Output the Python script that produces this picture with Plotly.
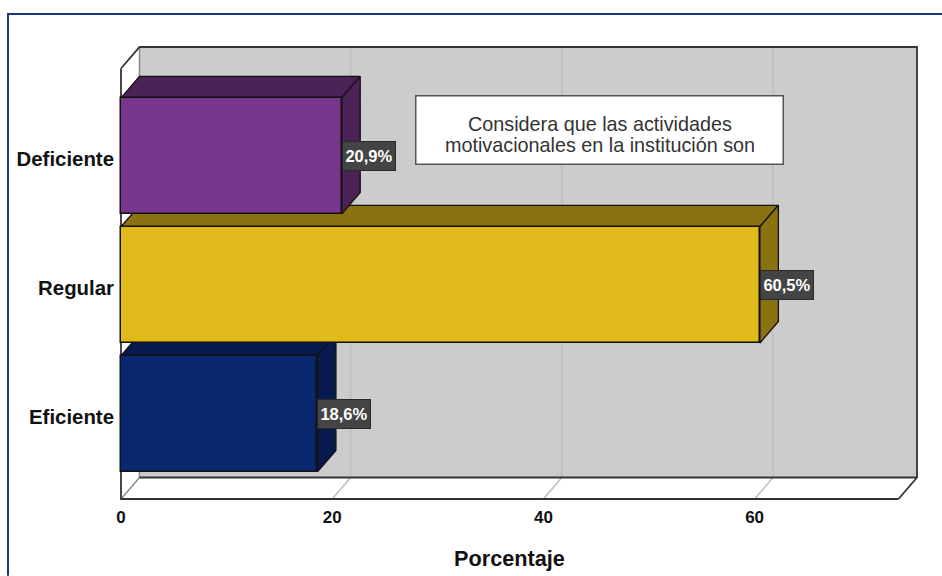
import plotly.graph_objects as go

# Encuesta: valoración de las actividades motivacionales
categorias = ["Eficiente", "Regular", "Deficiente"]
porcentajes = [18.6, 60.5, 20.9]
colores_frente = ["#0A2870", "#E0B91B", "#78378C"]
colores_sombra = ["#061A4E", "#8A7210", "#4A2255"]
ticks_x = [0, 20, 40, 60]
lineas_caja = ["Considera que las actividades", "motivacionales en la institución son"]
titulo_x = "Porcentaje"

# Geometría del marco (en píxeles) y margen de seguridad del área de trazado
W, H = 942, 576
L, R, T, B = 121, 917, 47, 499.3
MARGEN = 4
PX_X = 10.56
PX_Y = 129.0
X_MAX = (R - L) / PX_X
Y_MIN = -0.661
Y_MAX = Y_MIN + (B - T) / PX_Y
DX = 18.5 / PX_X
DY = 21.5 / PX_Y
ANCHO = 116.3 / PX_Y
BORDE = "#333333"
FUENTE = "Liberation Sans"
RANGO_X = [-MARGEN / PX_X, X_MAX + MARGEN / PX_X]
RANGO_Y = [Y_MIN - MARGEN / PX_Y, Y_MAX + MARGEN / PX_Y]
# Coordenadas de papel a partir de píxeles de la página
P_L, P_R, P_T, P_B = L - MARGEN, R + MARGEN, T - MARGEN, B + MARGEN
px = lambda p: (p - P_L) / (P_R - P_L)
py = lambda p: (P_B - p) / (P_B - P_T)


def poligono(xs, ys, relleno, linea, grosor=1.0):
    return go.Scatter(x=xs + xs[:1], y=ys + ys[:1], mode="lines", fill="toself",
                      fillcolor=relleno, line=dict(color=linea, width=grosor),
                      hoverinfo="skip", showlegend=False)


def segmento(xs, ys, color, grosor):
    return go.Scatter(x=xs, y=ys, mode="lines", line=dict(color=color, width=grosor),
                      hoverinfo="skip", showlegend=False)


fig = go.Figure()

# Pared de fondo, suelo y pared lateral
y_fondo = Y_MIN + DY
fig.add_trace(poligono([DX, X_MAX, X_MAX, DX], [y_fondo, y_fondo, Y_MAX, Y_MAX], "#CCCCCC", "#CCCCCC"))
fig.add_trace(poligono([0, DX, X_MAX, X_MAX - DX], [Y_MIN, y_fondo, y_fondo, Y_MIN], "#FFFFFF", "#FFFFFF"))
fig.add_trace(poligono([0, DX, DX, 0], [Y_MIN, y_fondo, Y_MAX, Y_MAX - DY], "#FFFFFF", "#FFFFFF"))

# Líneas de la cuadrícula sobre la pared y el suelo
for t in ticks_x[1:]:
    fig.add_trace(segmento([t, t + DX, t + DX], [Y_MIN, y_fondo, Y_MAX], "#BDBDBD", 1.5))
fig.add_trace(segmento([0, DX], [Y_MIN, y_fondo], "#8C8C8C", 1.5))

# Contorno del marco
fig.add_trace(segmento([DX, DX], [y_fondo, Y_MAX], "#8C8C8C", 1.5))
fig.add_trace(segmento([0, 0, X_MAX - DX], [Y_MAX - DY, Y_MIN, Y_MIN], BORDE, 1.8))
fig.add_trace(segmento([0, DX, X_MAX, X_MAX, X_MAX - DX],
                       [Y_MAX - DY, Y_MAX, Y_MAX, y_fondo, Y_MIN], BORDE, 1.8))
fig.add_trace(segmento([DX, X_MAX], [y_fondo, y_fondo], BORDE, 1.8))

# Caras superior y lateral de cada barra, del fondo hacia el frente
for i, v in enumerate(porcentajes):
    arriba, abajo = i + ANCHO / 2, i - ANCHO / 2
    fig.add_trace(poligono([0, DX, v + DX, v], [arriba, arriba + DY, arriba + DY, arriba],
                           colores_sombra[i], "#111111", 1.3))
    fig.add_trace(poligono([v, v + DX, v + DX, v], [arriba, arriba + DY, abajo + DY, abajo],
                           colores_sombra[i], "#111111", 1.3))

# Cara frontal de las barras, en un eje superpuesto
fig.add_trace(go.Bar(x=porcentajes, y=list(range(len(categorias))), orientation="h",
                     width=ANCHO, xaxis="x2", yaxis="y2", showlegend=False,
                     marker=dict(color=colores_frente, line=dict(color="#111111", width=1.5))))

# Etiquetas de valor
anotaciones = []
for i, v in enumerate(porcentajes):
    anotaciones.append(dict(
        x=v, y=i, xref="x", yref="y", xanchor="left", yanchor="middle", showarrow=False,
        text=f"<b>{v:.1f}%</b>".replace(".", ","), width=52, height=28,
        font=dict(family=FUENTE, size=16.5, color="#FFFFFF"),
        bgcolor="#444444", bordercolor="#2A2A2A", borderwidth=1, borderpad=0,
    ))

# Caja de texto (cada línea va aparte para ajustar el interlineado) y título del eje
anotaciones.append(dict(
    x=px(599), y=py(130.5), xref="paper", yref="paper", xanchor="center", yanchor="middle",
    showarrow=False, text=" ", width=366, height=67, font=dict(size=10),
    bgcolor="#FFFFFF", bordercolor="#555555", borderwidth=1.5, borderpad=0,
))
for linea, pos_y in zip(lineas_caja, [124, 145]):
    anotaciones.append(dict(
        x=px(600), y=py(pos_y), xref="paper", yref="paper", xanchor="center", yanchor="middle",
        showarrow=False, text=linea, font=dict(family=FUENTE, size=19.8, color="#333333"),
    ))
anotaciones.append(dict(
    x=(X_MAX - DX) / 2, y=py(559), xref="x", yref="paper", xanchor="center", yanchor="middle",
    showarrow=False, text=f"<b>{titulo_x}</b>", font=dict(family=FUENTE, size=21.7, color="#111111"),
))

# Filete azul del recuadro
filete = dict(color="#17397F", width=2)
formas = [
    dict(type="line", xref="paper", yref="paper", x0=px(8), x1=px(8), y0=py(14), y1=py(576), line=filete),
    dict(type="line", xref="paper", yref="paper", x0=px(7), x1=px(942), y0=py(14), y1=py(14), line=filete),
]

fig.update_layout(
    width=W, height=H, autosize=False, showlegend=False, bargap=0,
    paper_bgcolor="#FFFFFF", plot_bgcolor="rgba(0,0,0,0)",
    margin=dict(l=P_L, r=W - P_R, t=P_T, b=H - P_B, pad=0),
    annotations=anotaciones, shapes=formas,
    xaxis=dict(range=RANGO_X, tickvals=ticks_x, showgrid=False, zeroline=False, showline=False,
               ticks="", ticklabelstandoff=2,
               tickfont=dict(family=FUENTE, size=17, color="#111111", weight="bold")),
    yaxis=dict(range=RANGO_Y, tickvals=[i - 0.025 for i in range(len(categorias))],
               ticktext=categorias, showgrid=False, zeroline=False, showline=False,
               ticks="", ticklabelstandoff=2,
               tickfont=dict(family=FUENTE, size=20.4, color="#111111", weight="bold")),
    xaxis2=dict(range=RANGO_X, overlaying="x", visible=False),
    yaxis2=dict(range=RANGO_Y, overlaying="y", visible=False),
)

fig.write_html("out.html")
